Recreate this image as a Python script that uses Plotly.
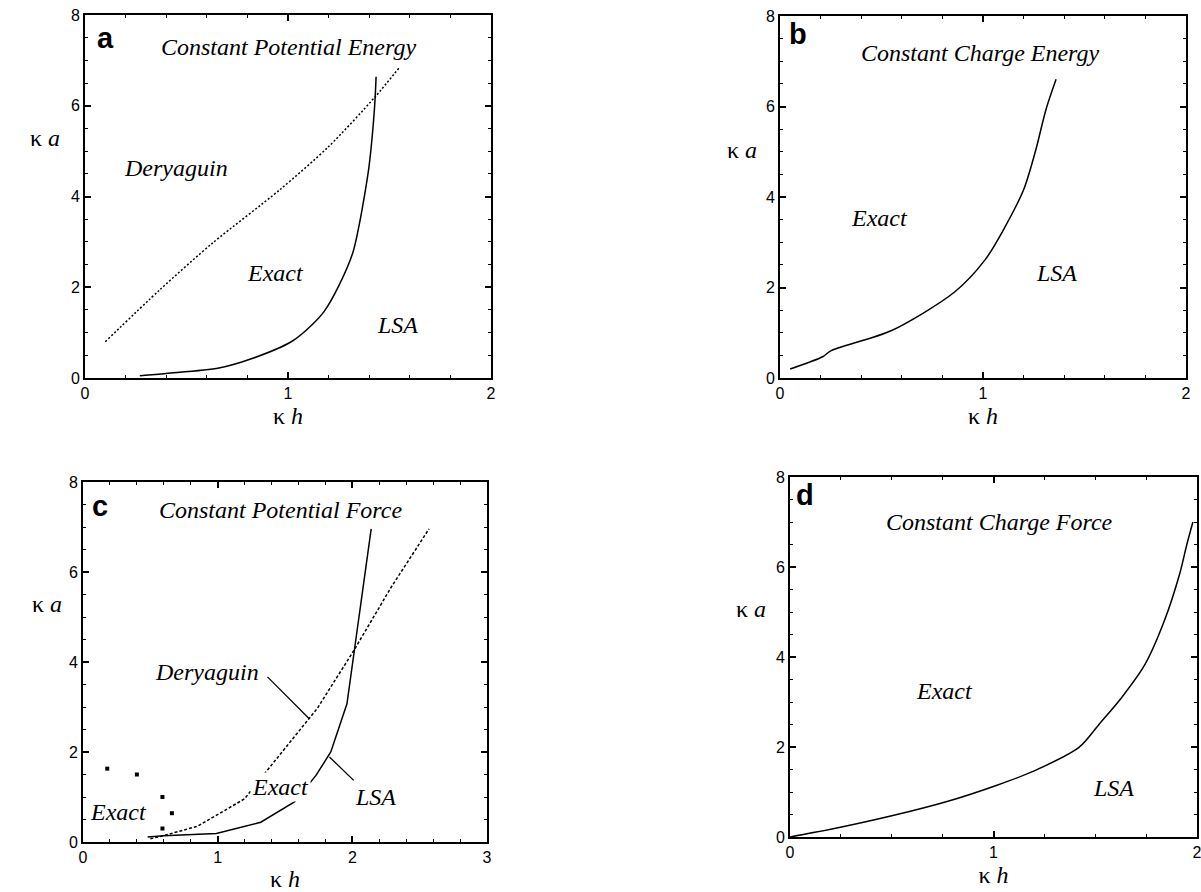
import plotly.graph_objects as go

# Panel a: constant potential, energy
a_dery_x = [0.10, 0.37, 0.63, 0.96, 1.20, 1.43, 1.55]
a_dery_y = [0.80, 1.95, 2.98, 4.15, 5.10, 6.20, 6.85]
a_curve_x = [0.27, 0.40, 0.66, 0.83, 1.02, 1.12, 1.18, 1.25, 1.32, 1.35, 1.385, 1.40, 1.426, 1.434]
a_curve_y = [0.05, 0.10, 0.22, 0.44, 0.81, 1.18, 1.48, 2.03, 2.77, 3.36, 4.24, 4.69, 5.94, 6.64]

# Panel b: constant charge, energy
b_curve_x = [0.05, 0.21, 0.25, 0.55, 0.86, 1.01, 1.10, 1.20, 1.26, 1.31, 1.36]
b_curve_y = [0.20, 0.47, 0.60, 1.05, 1.90, 2.61, 3.27, 4.16, 5.04, 5.93, 6.60]

# Panel c: constant potential, force
c_curve_x = [0.48, 0.60, 0.99, 1.32, 1.57, 1.73, 1.84, 1.96, 2.01, 2.14]
c_curve_y = [0.11, 0.14, 0.19, 0.44, 0.89, 1.48, 2.00, 3.07, 4.15, 6.96]
c_dery_x = [0.50, 0.62, 0.85, 1.20, 1.37, 1.74, 2.01, 2.29, 2.57]
c_dery_y = [0.07, 0.16, 0.35, 0.96, 1.60, 2.97, 4.25, 5.67, 6.96]
c_pts_x = [0.18, 0.40, 0.59, 0.66, 0.59]
c_pts_y = [1.63, 1.50, 1.00, 0.64, 0.30]

# Panel d: constant charge, force
d_curve_x = [0.0, 0.20, 0.50, 0.78, 1.01, 1.20, 1.42, 1.52, 1.63, 1.745, 1.84, 1.915, 1.95, 1.98]
d_curve_y = [0.0, 0.17, 0.47, 0.80, 1.14, 1.47, 1.99, 2.51, 3.10, 3.84, 4.81, 5.85, 6.50, 7.00]

x_ranges = [[0, 2], [0, 2], [0, 3], [0, 2]]
x_minor = [0.2, 0.2, 0.2, 0.25]
y_range = [0, 8]

SERIF = "Liberation Serif, Times New Roman, serif"
SANS = "Liberation Sans, Arial, sans-serif"
INK = "black"
LABEL_SIZE = 24

fig = go.Figure()

def line(x, y, n, dash="solid", shape="linear"):
    fig.add_trace(go.Scatter(
        x=x, y=y, mode="lines", xaxis=f"x{n}" if n > 1 else "x",
        yaxis=f"y{n}" if n > 1 else "y",
        line=dict(color=INK, width=1.5, dash=dash, shape=shape, smoothing=0.8),
        showlegend=False, hoverinfo="skip"))

line(a_dery_x, a_dery_y, 1, dash="2px,2px", shape="spline")
line(a_curve_x, a_curve_y, 1, shape="spline")
line(b_curve_x, b_curve_y, 2, shape="spline")
line(c_dery_x, c_dery_y, 3, dash="3px,2px")
line(c_curve_x, c_curve_y, 3)
fig.add_trace(go.Scatter(
    x=c_pts_x, y=c_pts_y, mode="markers", xaxis="x3", yaxis="y3",
    marker=dict(symbol="square", size=4, color=INK), showlegend=False,
    hoverinfo="skip"))
line(d_curve_x, d_curve_y, 4, shape="spline")

# plot-box geometry in paper fractions (W=1201, H=892)
domains = [
    ([85 / 1201, 491 / 1201], [1 - 378 / 892, 1 - 15 / 892]),
    ([780 / 1201, 1186 / 1201], [1 - 378 / 892, 1 - 16 / 892]),
    ([83 / 1201, 487 / 1201], [1 - 842 / 892, 1 - 482 / 892]),
    ([790 / 1201, 1197 / 1201], [1 - 837 / 892, 1 - 477 / 892]),
]

layout = dict(
    width=1201, height=892, autosize=False,
    margin=dict(l=0, r=0, t=0, b=0),
    paper_bgcolor="white", plot_bgcolor="white", showlegend=False,
)

axis_common = dict(
    showline=True, linewidth=2, linecolor=INK, mirror="ticks",
    ticks="inside", ticklen=6, tickwidth=1.5, tickcolor=INK,
    showgrid=False, zeroline=False, automargin=False,
    ticklabeloverflow="allow",
    tickfont=dict(family=SANS, size=16, color=INK),
)

for i, ((xd, yd), xr, xm) in enumerate(zip(domains, x_ranges, x_minor), start=1):
    s = "" if i == 1 else str(i)
    layout[f"xaxis{s}"] = dict(
        axis_common, domain=xd, range=xr, dtick=1, anchor=f"y{s}",
        minor=dict(ticks="inside", dtick=xm, ticklen=3, tickwidth=1, tickcolor=INK),
        title=dict(text="κ <i>h</i>", font=dict(family=SERIF, size=LABEL_SIZE, color=INK),
                   standoff=6),
    )
    layout[f"yaxis{s}"] = dict(
        axis_common, domain=yd, range=y_range, dtick=2, anchor=f"x{s}",
        minor=dict(ticks="inside", dtick=0.5, ticklen=3, tickwidth=1, tickcolor=INK),
    )

fig.update_layout(**layout)

def txt(n, x, y, text, size=LABEL_SIZE, family=SERIF, italic=True, bold=False, **kw):
    s = "" if n == 1 else str(n)
    t = f"<i>{text}</i>" if italic else text
    if bold:
        t = f"<b>{t}</b>"
    fig.add_annotation(x=x, y=y, xref=f"x{s}", yref=f"y{s}", text=t,
                       showarrow=False, font=dict(family=family, size=size, color=INK),
                       **kw)

# panel letters
for n, (x, y, ch) in enumerate([(0.10, 7.50, "a"), (0.09, 7.60, "b"),
                                (0.124, 7.47, "c"), (0.075, 7.59, "d")], start=1):
    txt(n, x, y, ch, size=29, family=SANS, italic=False, bold=True)

# panel titles and region labels
txt(1, 1.00, 7.29, "Constant Potential Energy")
txt(1, 0.45, 4.63, "Deryaguin")
txt(1, 0.94, 2.31, "Exact")
txt(1, 1.54, 1.17, "LSA")

txt(2, 0.99, 7.19, "Constant Charge Energy")
txt(2, 0.49, 3.53, "Exact")
txt(2, 1.36, 2.31, "LSA")

txt(3, 1.47, 7.37, "Constant Potential Force")
txt(3, 0.92, 3.78, "Deryaguin")
txt(3, 1.47, 1.22, "Exact", bgcolor="white", borderpad=1)
txt(3, 2.17, 1.00, "LSA")
txt(3, 0.26, 0.67, "Exact")

txt(4, 1.03, 7.00, "Constant Charge Force")
txt(4, 0.76, 3.25, "Exact")
txt(4, 1.59, 1.10, "LSA")

# leader lines in panel c
for (x0, y0, x1, y1) in [(1.37, 3.67, 1.68, 2.74), (1.83, 1.89, 2.01, 1.37)]:
    fig.add_shape(type="line", xref="x3", yref="y3", x0=x0, y0=y0, x1=x1, y1=y1,
                  line=dict(color=INK, width=1.3))

# vertical-axis labels, written horizontally to the left of each box
for n, (dx, dy) in enumerate([(-0.14, 0.66), (-0.135, 0.63),
                              (-0.13, 0.66), (-0.137, 0.634)], start=1):
    s = "" if n == 1 else str(n)
    fig.add_annotation(x=dx, y=dy, xref=f"x{s} domain", yref=f"y{s} domain",
                       text="κ <i>a</i>", showarrow=False,
                       font=dict(family=SERIF, size=LABEL_SIZE, color=INK))

fig.write_html("out.html")
